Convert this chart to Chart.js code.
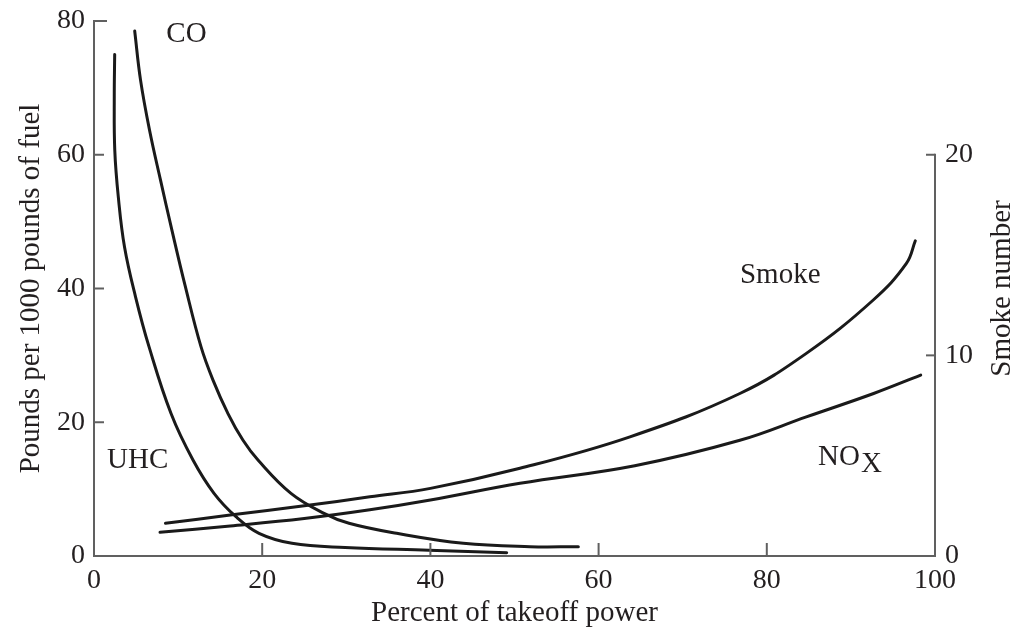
<!DOCTYPE html>
<html>
<head>
<meta charset="utf-8">
<script src="https://cdn.jsdelivr.net/npm/chart.js@4"></script>
<style>
  html, body { margin: 0; padding: 0; background: #fff; }
</style>
</head>
<body>
<canvas id="chart" width="1014" height="632"></canvas>
<script>
// percent of takeoff power vs. emission index (lb per 1000 lb fuel)
const uhcPower = [2.46, 2.41, 2.47, 2.89, 3.63, 4.93, 6.54, 9.16, 11.77, 14.27, 16.88, 19.62, 23.54, 29.85, 39.83, 49.07];
const uhcLbs   = [75.0, 68.7, 60.7, 53.7, 46.2, 38.8, 31.3, 21.3, 14.35, 9.37, 5.87, 3.39, 1.9, 1.27, 0.87, 0.49];

const coPower = [4.84, 5.53, 6.6, 7.91, 9.27, 10.82, 12.72, 14.15, 15.93, 17.72, 19.5, 23.42, 27.35, 30.32, 35.99, 43.91, 51.84, 57.59];
const coLbs   = [78.5, 71.2, 63.7, 56.2, 48.7, 40.5, 31.3, 26.3, 21.3, 17.3, 14.35, 9.37, 6.38, 4.89, 3.39, 1.9, 1.39, 1.39];

const noxPower = [7.85, 16.2, 25, 32.8, 40, 50.65, 64.3, 76.8, 84.7, 92.7, 98.3];
const noxLbs   = [3.54, 4.48, 5.6, 6.9, 8.37, 10.87, 13.5, 17.3, 20.8, 24.3, 27.05];

// smoke number is read on the right-hand axis
const smokePower  = [8.5, 16.2, 25, 32.8, 40, 50.65, 63.73, 76.8, 84.7, 92.66, 96.6, 97.66];
const smokeNumber = [1.63, 2.04, 2.5, 2.95, 3.37, 4.37, 5.94, 8.1, 10.1, 12.76, 14.58, 15.71];

const powerTicks = [0, 20, 40, 60, 80, 100];
const lbsTicks = [0, 20, 40, 60, 80];
const smokeTicks = [0, 10, 20];

const INK = '#231f20';
const CURVE = '#1a1a1a';
const AXIS = '#606060';
const SERIF = '"Liberation Serif", "Times New Roman", serif';

const pts = (xs, ys) => xs.map((x, i) => ({ x, y: ys[i] }));

// curve names, placed in data units of the left axis
const curveLabels = [
  { text: 'CO', x: 11.0, y: 78.0 },
  { text: 'UHC', x: 5.2, y: 14.3 },
  { text: 'Smoke', x: 81.6, y: 42.0 }
];

const extras = {
  id: 'extras',
  afterDraw(chart) {
    const ctx = chart.ctx;
    const { x, y, y2 } = chart.scales;
    const seg = (x1, y1, x2, y2_) => {
      ctx.beginPath(); ctx.moveTo(x1, y1); ctx.lineTo(x2, y2_); ctx.stroke();
    };
    ctx.save();
    ctx.strokeStyle = AXIS;
    ctx.lineWidth = 2;

    // right axis line only runs up to the top labelled tick
    seg(y2.left, y2.getPixelForValue(0) + 1, y2.left, y2.getPixelForValue(20) - 1);

    // inward tick marks
    lbsTicks.forEach(v => {
      const py = y.getPixelForValue(v);
      seg(y.right, py, y.right + (v === 80 ? 13 : 10), py);
    });
    powerTicks.forEach(v => {
      const px = x.getPixelForValue(v);
      seg(px, x.top, px, x.top - 13);
    });
    smokeTicks.forEach(v => {
      const py = y2.getPixelForValue(v);
      seg(y2.left, py, y2.left - 9, py);
    });

    ctx.fillStyle = INK;
    ctx.font = '29px ' + SERIF;
    ctx.textBaseline = 'middle';
    ctx.textAlign = 'center';
    curveLabels.forEach(l => {
      ctx.fillText(l.text, x.getPixelForValue(l.x), y.getPixelForValue(l.y));
    });

    // NOx with subscript X
    const nx = x.getPixelForValue(86.1), ny = y.getPixelForValue(14.8);
    ctx.textAlign = 'left';
    ctx.fillText('NO', nx, ny);
    const w = ctx.measureText('NO').width;
    ctx.fillText('X', nx + w + 1, ny + 7);

    // right axis title, reading bottom to top
    ctx.translate(1002, (chart.chartArea.top + chart.chartArea.bottom) / 2);
    ctx.rotate(-Math.PI / 2);
    ctx.textAlign = 'center';
    ctx.fillText('Smoke number', 0, 0);
    ctx.restore();
  }
};

const tickFont = { family: SERIF, size: 28 };
const titleFont = { family: SERIF, size: 29, lineHeight: 1 };

new Chart(document.getElementById('chart'), {
  type: 'line',
  data: {
    datasets: [
      { label: 'UHC', data: pts(uhcPower, uhcLbs), yAxisID: 'y', borderColor: CURVE },
      { label: 'CO', data: pts(coPower, coLbs), yAxisID: 'y', borderColor: CURVE },
      { label: 'NOx', data: pts(noxPower, noxLbs), yAxisID: 'y', borderColor: CURVE },
      { label: 'Smoke', data: pts(smokePower, smokeNumber), yAxisID: 'y2', borderColor: CURVE }
    ]
  },
  options: {
    responsive: false,
    animation: false,
    layout: { padding: { top: 21, left: 0, right: 0, bottom: 0 } },
    plugins: { legend: { display: false }, tooltip: { enabled: false } },
    elements: {
      line: { borderWidth: 3, tension: 0.4, borderCapStyle: 'round', borderJoinStyle: 'round', fill: false },
      point: { radius: 0 }
    },
    datasets: { line: { clip: false } },
    scales: {
      x: {
        type: 'linear', min: 0, max: 100,
        afterFit(s) { s.height = 76; s.paddingLeft = 0; s.paddingRight = 0; },
        afterBuildTicks(s) { s.ticks = powerTicks.map(v => ({ value: v })); },
        ticks: { color: INK, font: tickFont, padding: 8 },
        grid: { display: false, drawTicks: false },
        border: { color: AXIS, width: 2 },
        title: { display: true, text: 'Percent of takeoff power', color: INK, font: titleFont, padding: { top: 0, bottom: 4 } }
      },
      y: {
        position: 'left', min: 0, max: 80,
        afterFit(s) { s.width = 94; s.paddingTop = 0; s.paddingBottom = 0; },
        afterBuildTicks(s) { s.ticks = lbsTicks.map(v => ({ value: v })); },
        ticks: { color: INK, font: tickFont, padding: 9 },
        grid: { display: false, drawTicks: false },
        border: { color: AXIS, width: 2 },
        title: { display: true, text: 'Pounds per 1000 pounds of fuel', color: INK, font: titleFont, padding: { top: 17, bottom: 0 } }
      },
      y2: {
        position: 'right', min: 0, max: 80 / 3,
        afterFit(s) { s.width = 79; s.paddingTop = 0; s.paddingBottom = 0; },
        afterBuildTicks(s) { s.ticks = smokeTicks.map(v => ({ value: v })); },
        ticks: { color: INK, font: tickFont, padding: 10 },
        grid: { display: false, drawTicks: false },
        border: { display: false }
      }
    }
  },
  plugins: [extras]
});
</script>
</body>
</html>
